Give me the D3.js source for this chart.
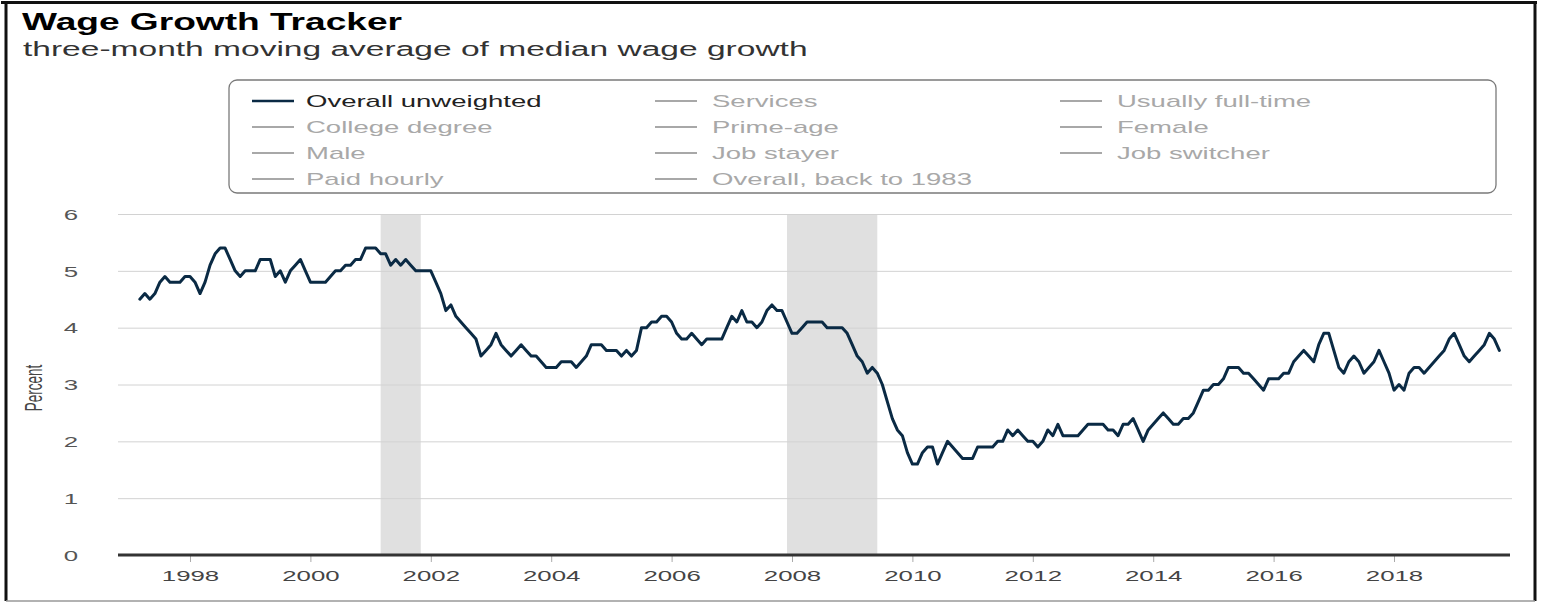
<!DOCTYPE html>
<html>
<head>
<meta charset="utf-8">
<script src="https://cdn.jsdelivr.net/npm/d3@7"></script>
<style>
  html, body { margin: 0; padding: 0; background: #fff; }
  svg { display: block; font-family: "Liberation Sans", Arial, Helvetica, sans-serif; }
</style>
</head>
<body>
<svg id="chart" width="1546" height="603"></svg>
<script>
// ---------------- DATA ----------------
const titleText = "Wage Growth Tracker";
const subtitleText = "three-month moving average of median wage growth";
const yAxisLabel = "Percent";

// first observation: March 1997, monthly thereafter
const startYear = 1997;
const startMonth = 3;
const wageGrowth = [
  /*1997*/ 4.5,4.6,4.5,4.6,4.8,4.9,4.8,4.8,4.8,4.9,
  /*1998*/ 4.9,4.8,4.6,4.8,5.1,5.3,5.4,5.4,5.2,5.0,4.9,5.0,
  /*1999*/ 5.0,5.0,5.2,5.2,5.2,4.9,5.0,4.8,5.0,5.1,5.2,5.0,
  /*2000*/ 4.8,4.8,4.8,4.8,4.9,5.0,5.0,5.1,5.1,5.2,5.2,5.4,
  /*2001*/ 5.4,5.4,5.3,5.3,5.1,5.2,5.1,5.2,5.1,5.0,5.0,5.0,
  /*2002*/ 5.0,4.8,4.6,4.3,4.4,4.2,4.1,4.0,3.9,3.8,3.5,3.6,
  /*2003*/ 3.7,3.9,3.7,3.6,3.5,3.6,3.7,3.6,3.5,3.5,3.4,3.3,
  /*2004*/ 3.3,3.3,3.4,3.4,3.4,3.3,3.4,3.5,3.7,3.7,3.7,3.6,
  /*2005*/ 3.6,3.6,3.5,3.6,3.5,3.6,4.0,4.0,4.1,4.1,4.2,4.2,
  /*2006*/ 4.1,3.9,3.8,3.8,3.9,3.8,3.7,3.8,3.8,3.8,3.8,4.0,
  /*2007*/ 4.2,4.1,4.3,4.1,4.1,4.0,4.1,4.3,4.4,4.3,4.3,4.1,
  /*2008*/ 3.9,3.9,4.0,4.1,4.1,4.1,4.1,4.0,4.0,4.0,4.0,3.9,
  /*2009*/ 3.7,3.5,3.4,3.2,3.3,3.2,3.0,2.7,2.4,2.2,2.1,1.8,
  /*2010*/ 1.6,1.6,1.8,1.9,1.9,1.6,1.8,2.0,1.9,1.8,1.7,1.7,
  /*2011*/ 1.7,1.9,1.9,1.9,1.9,2.0,2.0,2.2,2.1,2.2,2.1,2.0,
  /*2012*/ 2.0,1.9,2.0,2.2,2.1,2.3,2.1,2.1,2.1,2.1,2.2,2.3,
  /*2013*/ 2.3,2.3,2.3,2.2,2.2,2.1,2.3,2.3,2.4,2.2,2.0,2.2,
  /*2014*/ 2.3,2.4,2.5,2.4,2.3,2.3,2.4,2.4,2.5,2.7,2.9,2.9,
  /*2015*/ 3.0,3.0,3.1,3.3,3.3,3.3,3.2,3.2,3.1,3.0,2.9,3.1,
  /*2016*/ 3.1,3.1,3.2,3.2,3.4,3.5,3.6,3.5,3.4,3.7,3.9,3.9,
  /*2017*/ 3.6,3.3,3.2,3.4,3.5,3.4,3.2,3.3,3.4,3.6,3.4,3.2,
  /*2018*/ 2.9,3.0,2.9,3.2,3.3,3.3,3.2,3.3,3.4,3.5,3.6,3.8,
  /*2019*/ 3.9,3.7,3.5,3.4,3.5,3.6,3.7,3.9,3.8,3.6
];

// recessions (decimal years: Mar 2001–Nov 2001, Dec 2007–Jun 2009)
const recessionStarts = [2001 + 2/12, 2007 + 11/12];
const recessionEnds   = [2001 + 10/12, 2009 + 5/12];

const xTickYears = [1998, 2000, 2002, 2004, 2006, 2008, 2010, 2012, 2014, 2016, 2018];
const yTickValues = [0, 1, 2, 3, 4, 5, 6];

const legendItems = [
  "Overall unweighted", "Services", "Usually full-time",
  "College degree", "Prime-age", "Female",
  "Male", "Job stayer", "Job switcher",
  "Paid hourly", "Overall, back to 1983"
];
const activeSeries = "Overall unweighted";

// ---------------- LAYOUT ----------------
const K = 1.72; // horizontal stretch of the original image text
const svg = d3.select("#chart");
const plotLeft = 118, plotRight = 1512, plotTop = 214, plotBottom = 555;

const x = d3.scaleLinear().domain([1996.804, 2019.96]).range([plotLeft, plotRight]);
const y = d3.scaleLinear().domain([0, 6]).range([plotBottom, plotTop]);

const series = wageGrowth.map((v, i) => ({
  t: startYear + (startMonth - 1 + i) / 12,
  v: v
}));

function stretchText(g, tx, ty, str, size, opts = {}) {
  return g.append("text")
    .attr("transform", `translate(${tx},${ty}) scale(${opts.k || K},1)` + (opts.rotate ? ` rotate(${opts.rotate})` : ""))
    .attr("text-anchor", opts.anchor || "start")
    .attr("font-size", size)
    .attr("font-weight", opts.weight || "normal")
    .attr("fill", opts.fill || "#333")
    .text(str);
}

// frame
svg.append("line").attr("x1", 1).attr("x2", 1537).attr("y1", 2.5).attr("y2", 2.5).attr("stroke", "#111").attr("stroke-width", 3);
svg.append("line").attr("x1", 6).attr("x2", 6).attr("y1", 1).attr("y2", 601).attr("stroke", "#111").attr("stroke-width", 3);
svg.append("line").attr("x1", 1535).attr("x2", 1535).attr("y1", 1).attr("y2", 601).attr("stroke", "#111").attr("stroke-width", 3);
svg.append("line").attr("x1", 6).attr("x2", 1535).attr("y1", 601).attr("y2", 601).attr("stroke", "#999").attr("stroke-width", 1.5);

// title & subtitle
svg.append("text")
  .attr("x", 22).attr("y", 30)
  .attr("font-size", 24).attr("font-weight", "bold").attr("fill", "#000")
  .attr("textLength", 380).attr("lengthAdjust", "spacingAndGlyphs")
  .text(titleText);
stretchText(svg, 23, 56, subtitleText, 19.5, { fill: "#333" });

// legend
const lg = svg.append("g");
lg.append("rect").attr("x", 229).attr("y", 80).attr("width", 1267).attr("height", 113)
  .attr("rx", 8).attr("fill", "none").attr("stroke", "#7a7a7a").attr("stroke-width", 1.3);
const colLineX = [252, 655, 1060];
const colTextX = [306, 712, 1117];
const rowY = [101, 127, 153, 179];
legendItems.forEach((name, i) => {
  const c = i % 3, r = Math.floor(i / 3);
  const active = name === activeSeries;
  lg.append("line")
    .attr("x1", colLineX[c]).attr("x2", colLineX[c] + 42)
    .attr("y1", rowY[r]).attr("y2", rowY[r])
    .attr("stroke", active ? "#0a2a44" : "#a8a8a8")
    .attr("stroke-width", active ? 2.6 : 2);
  stretchText(lg, colTextX[c], rowY[r] + 5.5, name, 16, { fill: active ? "#222" : "#a8a8a8" });
});

// recession bands
svg.append("g").selectAll("rect")
  .data(recessionStarts.map((s, i) => [s, recessionEnds[i]]))
  .join("rect")
  .attr("x", d => x(d[0]))
  .attr("width", d => x(d[1]) - x(d[0]))
  .attr("y", y(6))
  .attr("height", y(0) - y(6))
  .attr("fill", "#e0e0e0");

// gridlines + y labels
const yAxis = d3.axisLeft(y).tickValues(yTickValues).tickSize(-(plotRight - plotLeft)).tickFormat(d3.format("d"));
const yg = svg.append("g").attr("transform", `translate(${plotLeft},0)`).call(yAxis);
yg.select(".domain").remove();
yg.attr("font-family", null);
yg.selectAll(".tick line").attr("stroke", "#d2d2d2").attr("stroke-width", 1)
  .filter(d => d === 0).remove();
yg.selectAll(".tick text")
  .attr("x", 0).attr("dy", "0.35em")
  .attr("transform", `translate(-47,0) scale(${K},1)`)
  .attr("text-anchor", "middle")
  .attr("font-size", 15).attr("fill", "#555");

// y axis label
stretchText(svg, 42, 388, yAxisLabel, 13.5, { anchor: "middle", rotate: -90, fill: "#444" });

// x axis
const xAxis = d3.axisBottom(x).tickValues(xTickYears).tickSize(7).tickFormat(d3.format("d"));
const xg = svg.append("g").attr("transform", `translate(0,${plotBottom})`).call(xAxis);
xg.select(".domain").remove();
xg.attr("font-family", null);
xg.selectAll(".tick line").attr("stroke", "#aaa").attr("stroke-width", 1);
xg.selectAll(".tick text")
  .attr("y", 26).attr("dy", 0)
  .attr("transform", `scale(${K},1)`)
  .attr("font-size", 15).attr("fill", "#444");

// zero baseline
svg.append("line")
  .attr("x1", plotLeft).attr("x2", plotRight - 2)
  .attr("y1", y(0)).attr("y2", y(0))
  .attr("stroke", "#333").attr("stroke-width", 3);

// wage line
const line = d3.line().x(d => x(d.t)).y(d => y(d.v));
svg.append("path")
  .datum(series)
  .attr("d", line)
  .attr("fill", "none")
  .attr("stroke", "#0a2a44")
  .attr("stroke-width", 3)
  .attr("stroke-linejoin", "round")
  .attr("stroke-linecap", "round");
</script>
</body>
</html>
